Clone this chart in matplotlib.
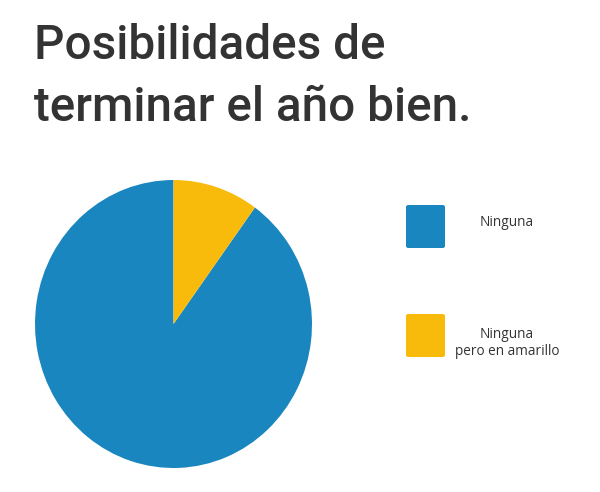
import matplotlib.pyplot as plt
from matplotlib.patches import FancyBboxPatch

title_lines = ["Posibilidades de", "terminar el año bien."]
labels = ["Ninguna", "Ninguna\npero en amarillo"]
values = [90, 10]
colors = ["#1a86bf", "#f8bb0c"]

W, H = 600, 492
fig = plt.figure(figsize=(W / 100, H / 100), dpi=100)
fig.patch.set_facecolor("white")

# title, two lines
for i, line in enumerate(title_lines):
    fig.text(34 / W, 1 - (59 + 62 * i) / H, line, fontsize=34.3, family="Roboto",
             weight="medium", color="#333333", ha="left", va="baseline")

# pie (slightly taller than wide, like the picture)
ax = fig.add_axes([35 / W, 1 - 468 / H, 277 / W, 288 / H])
ax.pie(values, colors=colors, startangle=90, counterclock=True, radius=1,
       wedgeprops=dict(linewidth=0))
ax.set_aspect("auto")
ax.set_xlim(-1, 1)
ax.set_ylim(-1, 1)

# legend boxes on the right
box_y = [205, 314]
text_y = [222, 343]
for i, (lab, col) in enumerate(zip(labels, colors)):
    y0 = box_y[i]
    fig.patches.append(FancyBboxPatch((406 / W, 1 - (y0 + 43) / H), 39 / W, 43 / H,
                                      boxstyle="round,pad=0,rounding_size=0.004",
                                      transform=fig.transFigure, facecolor=col,
                                      edgecolor="none"))
    fig.text(507 / W, 1 - text_y[i] / H, lab,
             fontsize=9.8, family="Open Sans", color="#333333",
             ha="center", va="center", linespacing=1.25)

fig.savefig("out.png", dpi=100)
